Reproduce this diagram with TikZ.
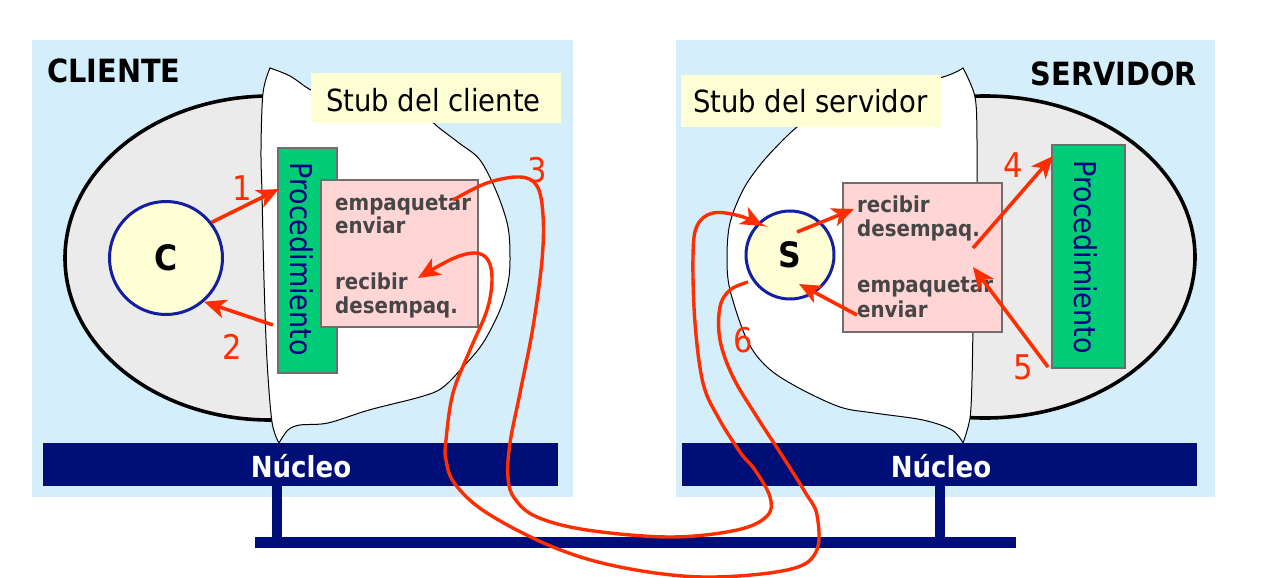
\documentclass[tikz,border=0pt]{standalone}
\usepackage{fontspec}
\setmainfont{DejaVu Sans Condensed}
\usetikzlibrary{arrows.meta}
\definecolor{panelblue}{RGB}{213,238,251}
\definecolor{ellgray}{RGB}{235,235,235}
\definecolor{stubyellow}{RGB}{255,255,213}
\definecolor{procgreen}{RGB}{0,204,119}
\definecolor{boxpink}{RGB}{255,213,213}
\definecolor{navy}{RGB}{0,14,120}
\definecolor{circblue}{RGB}{20,30,160}
\definecolor{circyellow}{RGB}{255,255,213}
\definecolor{procblue}{RGB}{0,0,128}
\definecolor{arrred}{RGB}{255,45,0}
\definecolor{txtgray}{RGB}{70,70,70}
\definecolor{boxedge}{RGB}{110,110,110}
\begin{document}
\begin{tikzpicture}[x=1pt,y=-1pt,
  panel/.style={fill=panelblue,draw=none,inner sep=0,outer sep=0,anchor=north west},
  kernel/.style={fill=navy,draw=none,inner sep=0,outer sep=0,anchor=north west},
  grayell/.style={fill=ellgray,draw=black,line width=3.6pt},
  cloud/.style={fill=white,draw=black,line width=1pt},
  stublbl/.style={fill=stubyellow,draw=none,inner sep=0,outer sep=0,anchor=north west},
  procbox/.style={fill=procgreen,draw=boxedge,line width=1.3pt,inner sep=0,outer sep=0,anchor=north west},
  pinkbox/.style={fill=boxpink,draw=boxedge,line width=1.3pt,inner sep=0,outer sep=0,anchor=north west},
  proc/.style={circle,fill=circyellow,draw=circblue,line width=3pt,inner sep=0,
     font=\fontsize{35}{40}\selectfont\bfseries},
  title/.style={font=\fontsize{32}{36}\selectfont\bfseries,inner sep=0},
  stubtxt/.style={font=\fontsize{30.5}{36}\selectfont,inner sep=0,anchor=base west},
  proctxt/.style={font=\fontsize{30}{36}\selectfont,text=procblue,rotate=-90,inner sep=0},
  optxt/.style={font=\fontsize{22}{25}\selectfont\bfseries,text=txtgray,inner sep=0,anchor=base west},
  kerntxt/.style={font=\fontsize{29}{32}\selectfont\bfseries,text=white,inner sep=0,anchor=base},
  num/.style={font=\fontsize{34}{38}\selectfont,text=arrred,inner sep=0},
  redarr/.style={draw=arrred,line width=3.6pt,-{Stealth[length=22pt,width=19pt,inset=6pt]}},
  redcurve/.style={draw=arrred,line width=3.4pt,-{Stealth[length=22pt,width=19pt,inset=6pt]}}
]
\useasboundingbox (0,0) rectangle (1270,578);
\fill[white] (0,0) rectangle (1270,578);

% panels
\node[panel,minimum width=541,minimum height=457] (panelL) at (32,40) {};
\node[panel,minimum width=539,minimum height=457] (panelR) at (676,40) {};

% network
\node[kernel,minimum width=761,minimum height=11] (bus) at (255,537) {};
\node[kernel,minimum width=10,minimum height=54] (stubwireL) at (272,485) {};
\node[kernel,minimum width=10,minimum height=54] (stubwireR) at (935,485) {};

% gray ellipses
\draw[grayell] (270,258) ellipse [x radius=205, y radius=162];
\draw[grayell] (985,257) ellipse [x radius=210, y radius=161];

% clouds (stubs)
\draw[cloud] plot[smooth,tension=0.55] coordinates {(270,68) (263,93) (261,150) (262,193) (264,280) (267,360) (272,422) (279,443)}
  -- plot[smooth,tension=0.55] coordinates {(279,443) (288,430) (300,425) (328,423) (369,410) (420,397) (442,388) (463,367) (483,343) (500,310) (508,283) (510,260) (508,227) (497,193) (480,160) (459,143) (438,127) (420,112) (380,100) (330,95) (311,90) (290,76) (270,68)} -- cycle;
\draw[cloud] plot[smooth,tension=0.55] coordinates {(963,68) (975,97) (977,140) (977,197) (975,300) (973,333) (972,380) (970,418) (963,443)}
  -- plot[smooth,tension=0.55] coordinates {(963,443) (952,430) (923,420) (874,413) (840,407) (797,387) (767,367) (747,340) (730,290) (727,257) (730,223) (743,190) (760,165) (780,143) (797,127) (820,110) (880,92) (943,77) (963,68)} -- cycle;

% kernel bars
\node[kernel,minimum width=515,minimum height=43] (nucL) at (43,443) {};
\node[kernel,minimum width=515,minimum height=43] (nucR) at (682,443) {};
\node[kerntxt] (nucLtxt) at (301,477) {Núcleo};
\node[kerntxt] (nucRtxt) at (941,477) {Núcleo};

% titles
\node[title,anchor=base west] (cli) at (47,82) {CLIENTE};
\node[title,anchor=base east] (srv) at (1197,85) {SERVIDOR};

% stub labels
\node[stublbl,minimum width=250,minimum height=50] (stubL) at (311,73) {};
\node[stubtxt] (stubLtxt) at (326,111) {Stub del cliente};
\node[stublbl,minimum width=260,minimum height=52] (stubR) at (681,75) {};
\node[stubtxt] (stubRtxt) at (693,112) {Stub del servidor};

% procedure boxes
\node[procbox,minimum width=59,minimum height=225] (procL) at (278,148) {};
\node[proctxt] (procLtxt) at (302,259) {Procedimiento};
\node[procbox,minimum width=73,minimum height=223] (procR) at (1052,145) {};
\node[proctxt] (procRtxt) at (1086,257) {Procedimiento};

% pink boxes
\node[pinkbox,minimum width=157,minimum height=147] (pinkL) at (321,180) {};
\node[optxt] (eL1) at (335,210) {empaquetar};
\node[optxt] (eL2) at (335,233) {enviar};
\node[optxt] (rL1) at (335,289) {recibir};
\node[optxt] (rL2) at (335,313) {desempaq.};
\node[pinkbox,minimum width=159,minimum height=149] (pinkR) at (843,183) {};
\node[optxt] (rR1) at (857,212) {recibir};
\node[optxt] (rR2) at (857,236) {desempaq.};
\node[optxt] (eR1) at (857,292) {empaquetar};
\node[optxt] (eR2) at (857,317) {enviar};

% processes
\node[proc,minimum size=113] (C) at (166,258) {C};
\node[proc,minimum size=88] (S) at (790,255) {S};

% coordinates for connector ends
\coordinate (a1e) at (279,189);
\coordinate (a2s) at (273,325);
\coordinate (a7s) at (797,232);
\coordinate (a7e) at (854,209);
\coordinate (a8s) at (857,315);
\coordinate (a8e) at (799,284);
\coordinate (a4s) at (973,248);
\coordinate (a4e) at (1053,156);
\coordinate (a5s) at (1048,367);
\coordinate (a5e) at (973,267);
\coordinate (c3s) at (453,200);
\coordinate (c3e) at (763,226);
\coordinate (c6s) at (748,282);
\coordinate (c6e) at (418,278);

% short arrows
\draw[redarr] (C.38) -- (a1e);
\draw[redarr] (a2s) -- (C.-49);
\draw[redarr] (a7s) -- (a7e);
\draw[redarr] (a8s) -- (a8e);
\draw[redarr] (a4s) -- (a4e);
\draw[redarr] (a5s) -- (a5e);

% long curves
\draw[redcurve] plot[smooth,tension=0.6] coordinates {(c3s) (487,183) (520,177) (537,186) (543,215) (542,260) (533,327) (520,393) (510,443) (508,478) (515,499) (537,517) (587,530) (670,537) (737,530) (767,516) (770,497) (755,470) (740,452) (718,417) (703,383) (695,323) (693,257) (697,226) (713,213) (740,216) (c3e)};
\draw[redcurve] plot[smooth,tension=0.6] coordinates {(c6s) (730,290) (720,307) (720,340) (733,377) (757,417) (783,457) (805,492) (817,515) (816,552) (787,570) (703,577) (620,567) (553,547) (487,513) (455,484) (446,460) (446,440) (453,393) (470,350) (487,310) (492,280) (488,260) (475,253) (452,259) (c6e)};

% step numbers
\node[num] (n1) at (242,188) {1};
\node[num] (n2) at (232,347) {2};
\node[num] (n3) at (537,170) {3};
\node[num] (n4) at (1013,165) {4};
\node[num] (n5) at (1023,367) {5};
\node[num] (n6) at (743,340) {6};
\end{tikzpicture}
\end{document}
